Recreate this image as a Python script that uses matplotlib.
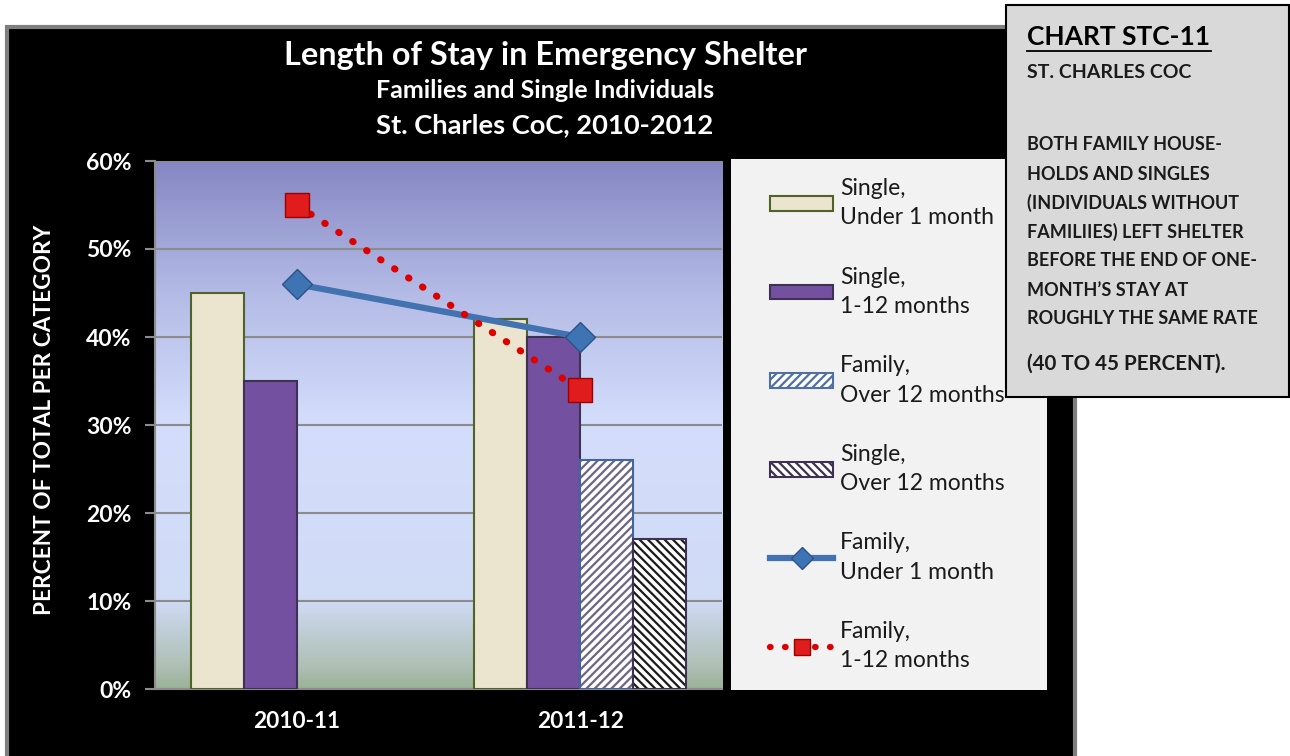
import matplotlib.pyplot as plt
import numpy as np
from matplotlib.patches import Rectangle, Patch
from matplotlib.lines import Line2D
from matplotlib.colors import LinearSegmentedColormap

plt.rcParams['font.family'] = ['Lato', 'DejaVu Sans']
plt.rcParams['hatch.linewidth'] = 1.6

years = ["2010-11", "2011-12"]
single_under1 = [45, 42]
single_1_12 = [35, 40]
family_over12 = [0, 26]
single_over12 = [0, 17]
family_under1 = [46, 40]
family_1_12 = [55, 34]

W, H = 1290, 756
fig = plt.figure(figsize=(12.9, 7.56), dpi=100)
fig.patch.set_facecolor("white")

def fx(px):
    return px / W

def fy(py):
    return 1 - py / H

# black chart panel with grey frame
fig.patches.append(Rectangle((fx(7), -0.05), fx(1068), fy(27) + 0.05, transform=fig.transFigure,
                             facecolor="black", edgecolor="#7f7f7f", linewidth=3, zorder=-2))
# legend box
fig.patches.append(Rectangle((fx(731), fy(690)), fx(316), (690 - 159) / H, transform=fig.transFigure,
                             facecolor="#f2f2f2", edgecolor="none", zorder=-1))

ax = fig.add_axes([fx(155), fy(689), fx(567), 528 / H])
ax.set_xlim(-0.5, 1.5)
ax.set_ylim(0, 60)

# gradient background
cmap = LinearSegmentedColormap.from_list("bg", [(0, "#9bb298"), (0.04, "#aebfb4"), (0.17, "#d0dbf6"),
                                               (0.5, "#d4defc"), (0.75, "#b4bbe6"), (1, "#8587c3")])
grad = np.linspace(0, 1, 256).reshape(-1, 1)
ax.imshow(grad, cmap=cmap, aspect="auto", origin="lower", extent=(-0.5, 1.5, 0, 60), zorder=0)

ax.yaxis.grid(True, color="#8c8c8c", linewidth=1.5, zorder=1)
ax.set_axisbelow(True)

x = np.arange(len(years))
w = 0.187
bars = []
bars += ax.bar(x - 1.5 * w, single_under1, w, color="#ebe5cf", edgecolor="#4f6228", linewidth=1.5, zorder=3)
bars += ax.bar(x - 0.5 * w, single_1_12, w, color="#7451a0", edgecolor="#3f3151", linewidth=1.5, zorder=3)
bars += ax.bar(x + 0.5 * w, family_over12, w, color="white", edgecolor="#6e6485", hatch="////", linewidth=0, zorder=3)
bars += ax.bar(x + 0.5 * w, family_over12, w, color="none", edgecolor="#3f66a0", linewidth=1.5, zorder=3)
bars += ax.bar(x + 1.5 * w, single_over12, w, color="white", edgecolor="#1a1a1a", hatch="\\\\\\\\", linewidth=0, zorder=3)
bars += ax.bar(x + 1.5 * w, single_over12, w, color="none", edgecolor="#3f3151", linewidth=1.5, zorder=3)
for b in bars:
    if b.get_height() == 0:
        b.set_visible(False)

ax.plot(x, family_under1, color="#4272b0", linewidth=4.5, solid_capstyle="round",
        marker="D", markersize=15, markerfacecolor="#3e74b4", markeredgecolor="#2c5286", zorder=4)
ax.plot(x, family_1_12, color="#dd0000", linewidth=5, linestyle=(0, (0.1, 2.3)), dash_capstyle="round",
        marker="s", markersize=17, markerfacecolor="#e01c1c", markeredgecolor="#9c0000", zorder=5)

ax.set_xticks(x)
ax.set_xticklabels(years)
ax.set_yticks(range(0, 61, 10))
ax.set_yticklabels([f"{v}%" for v in range(0, 61, 10)])
ax.tick_params(axis="y", colors="#8c8c8c", length=7, width=1.5, labelcolor="white", labelsize=16.5, pad=10)
ax.tick_params(axis="x", length=0, labelcolor="white", labelsize=16.3, pad=16)
for lab in ax.get_xticklabels() + ax.get_yticklabels():
    lab.set_fontweight("bold")
for s in ["top", "right"]:
    ax.spines[s].set_visible(False)
ax.spines["left"].set_color("#8c8c8c")
ax.spines["bottom"].set_color("#8c8c8c")
ax.spines["left"].set_linewidth(1.5)
ax.spines["bottom"].set_linewidth(1.5)

fig.text(fx(45), fy(420), "PERCENT OF TOTAL PER CATEGORY", rotation=90, color="white",
         fontsize=16.3, fontweight="bold", ha="center", va="center")

# titles
fig.text(fx(545), fy(55), "Length of Stay in Emergency Shelter", color="white", fontsize=23.3,
         fontweight="bold", ha="center", va="center")
fig.text(fx(545), fy(91), "Families and Single Individuals", color="white", fontsize=18,
         fontweight="bold", ha="center", va="center")
fig.text(fx(545), fy(125), "St. Charles CoC, 2010-2012", color="white", fontsize=19.7,
         fontweight="bold", ha="center", va="center")

# legend
handles = [
    Patch(facecolor="#ebe5cf", edgecolor="#4f6228", linewidth=1.5),
    Patch(facecolor="#7451a0", edgecolor="#3f3151", linewidth=1.5),
    Patch(facecolor="white", edgecolor="#4f6fa5", hatch="////", linewidth=1.5),
    Patch(facecolor="white", edgecolor="#3f3151", hatch="\\\\\\\\", linewidth=1.5),
    Line2D([], [], color="#4272b0", linewidth=4.5, marker="D", markersize=11,
           markerfacecolor="#3e74b4", markeredgecolor="#2c5286"),
    Line2D([], [], color="#dd0000", linewidth=4.5, linestyle=(0, (0.1, 2.3)), dash_capstyle="round",
           marker="s", markersize=12, markerfacecolor="#e01c1c", markeredgecolor="#9c0000"),
]
labels = ["Single,\nUnder 1 month", "Single,\n1-12 months", "Family,\nOver 12 months",
          "Single,\nOver 12 months", "Family,\nUnder 1 month", "Family,\n1-12 months"]
leg = fig.legend(handles, labels, loc="upper left", bbox_to_anchor=(fx(770), fy(178)),
                 frameon=False, fontsize=16.5, labelspacing=1.66, handlelength=2.75, handleheight=0.6,
                 handletextpad=0.3, borderaxespad=0, borderpad=0)
for t in leg.get_texts():
    t.set_color("#1a1a1a")
    t.set_linespacing(1.5)

# side note box
fig.patches.append(Rectangle((fx(1006), fy(397)), fx(283), (397 - 5) / H, transform=fig.transFigure,
                             facecolor="#d9d9d9", edgecolor="black", linewidth=1.5, zorder=5))
fig.text(fx(1027), fy(37), "CHART STC-11", fontsize=19, fontweight="bold", color="black",
         ha="left", va="center", zorder=6)
fig.add_artist(Line2D([fx(1027), fx(1211)], [fy(51), fy(51)], color="black", linewidth=1.3,
                      transform=fig.transFigure, zorder=6))
fig.text(fx(1027), fy(73), "ST. CHARLES COC", fontsize=14, fontweight="bold", color="#1a1a1a",
         ha="left", va="center", zorder=6)
note_lines = ["BOTH FAMILY HOUSE-", "HOLDS AND SINGLES", "(INDIVIDUALS WITHOUT",
              "FAMILIIES) LEFT SHELTER", "BEFORE THE END OF ONE-", "MONTH\u2019S STAY AT",
              "ROUGHLY THE SAME RATE"]
for i, line in enumerate(note_lines):
    fig.text(fx(1027), fy(145 + i * 29), line, fontsize=13, fontweight="bold", color="#1a1a1a",
             ha="left", va="center", zorder=6)
fig.text(fx(1027), fy(364), "(40 TO 45 PERCENT).", fontsize=14.8, fontweight="bold", color="#1a1a1a",
         ha="left", va="center", zorder=6)

fig.savefig("out.png", dpi=100, facecolor=fig.get_facecolor())
